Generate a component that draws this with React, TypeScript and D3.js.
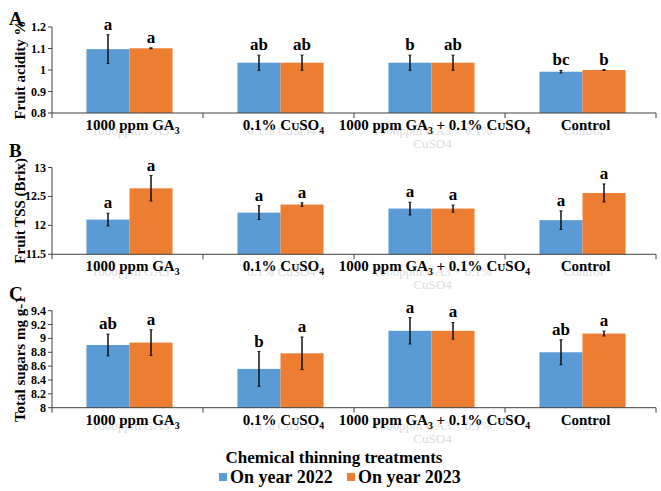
import * as d3 from 'd3';

// treatments on the x axis (same for the three panels)
const treatments = ['1000 ppm GA3', '0.1% CuSO4', '1000 ppm GA3 + 0.1% CuSO4', 'Control'];
// faint original axis labels left behind in the figure
const ghostLabels = [['1000ppm GA3'], ['0.1% CuSO4'], ['1000ppm GA3 + 0.1%', 'CuSO4'], ['Control']];
const years = ['On year 2022', 'On year 2023'];

// A - fruit acidity
const acidity2022 = [1.097, 1.034, 1.034, 0.992];
const acidity2023 = [1.101, 1.034, 1.034, 1.0];
const acidityErr2022 = [0.067, 0.035, 0.035, 0.006];
const acidityErr2023 = [0.002, 0.035, 0.035, 0.002];
const acidityLetters2022 = ['a', 'ab', 'b', 'bc'];
const acidityLetters2023 = ['a', 'ab', 'ab', 'b'];
const acidityTicks = [0.8, 0.9, 1, 1.1, 1.2];

// B - TSS
const tss2022 = [12.1, 12.22, 12.29, 12.09];
const tss2023 = [12.64, 12.36, 12.29, 12.56];
const tssErr2022 = [0.11, 0.12, 0.11, 0.16];
const tssErr2023 = [0.22, 0.03, 0.06, 0.155];
const tssLetters2022 = ['a', 'a', 'a', 'a'];
const tssLetters2023 = ['a', 'a', 'a', 'a'];
const tssTicks = [11.5, 12, 12.5, 13];

// C - total sugars
const sugar2022 = [8.905, 8.56, 9.11, 8.8];
const sugar2023 = [8.94, 8.785, 9.11, 9.07];
const sugarErr2022 = [0.157, 0.25, 0.19, 0.18];
const sugarErr2023 = [0.185, 0.235, 0.12, 0.035];
const sugarLetters2022 = ['ab', 'b', 'a', 'ab'];
const sugarLetters2023 = ['a', 'a', 'a', 'a'];
const sugarTicks = [8, 8.2, 8.4, 8.6, 8.8, 9, 9.2, 9.4];

const colors = ['#5B9BD5', '#ED7D31'];
const font = "'Liberation Serif', 'Times New Roman', serif";

const panels = [
  { letter: 'A', title: 'Fruit acidity %', ticks: acidityTicks, top: 27, bottom: 113,
    values: [acidity2022, acidity2023], errs: [acidityErr2022, acidityErr2023],
    letters: [acidityLetters2022, acidityLetters2023] },
  { letter: 'B', title: 'Fruit TSS (Brix)', ticks: tssTicks, top: 167.5, bottom: 254.3,
    values: [tss2022, tss2023], errs: [tssErr2022, tssErr2023],
    letters: [tssLetters2022, tssLetters2023] },
  { letter: 'C', title: 'Total sugars mg g-1', ticks: sugarTicks, top: 310.7, bottom: 407.7,
    values: [sugar2022, sugar2023], errs: [sugarErr2022, sugarErr2023],
    letters: [sugarLetters2022, sugarLetters2023] },
];

const left = 52;
const right = 656;

// turns GA3 / CuSO4 into subscript and small-cap pieces
function chemLabel(str: string) {
  const segs: { t: string; size?: string; sub?: boolean }[] = [];
  str.split(/(GA3|CuSO4)/).filter(s => s.length).forEach(p => {
    if (p === 'GA3') segs.push({ t: 'GA' }, { t: '3', size: '0.65em', sub: true });
    else if (p === 'CuSO4') segs.push({ t: 'C' }, { t: 'U', size: '0.75em' }, { t: 'SO' }, { t: '4', size: '0.65em', sub: true });
    else segs.push({ t: p });
  });
  let shifted = false;
  return segs.map((s, i) => {
    let dy = 0;
    if (s.sub && !shifted) { dy = 4; shifted = true; }
    else if (!s.sub && shifted) { dy = -4; shifted = false; }
    return <tspan key={i} fontSize={s.size} dy={dy || undefined}>{s.t}</tspan>;
  });
}

const x = d3.scaleBand<string>().domain(treatments).range([left, right]).paddingInner(0);
const groupW = x.bandwidth() * 0.57;
const xi = d3.scaleBand<string>().domain(years)
  .range([(x.bandwidth() - groupW) / 2 + 2, (x.bandwidth() + groupW) / 2 + 2]);
const tickXs = [...treatments.map(t => x(t) as number), right];

function Panel({ p }: { p: typeof panels[number] }) {
  const y = d3.scaleLinear()
    .domain([p.ticks[0], p.ticks[p.ticks.length - 1]])
    .range([p.bottom, p.top]);
  const midY = (p.top + p.bottom) / 2;
  return (
    <g>
      <text x={9} y={p.top - 2 - (p.letter === 'A' ? 0 : 9)} fontSize={19} fontWeight="bold">{p.letter}</text>
      <text transform={`translate(25,${midY}) rotate(-90)`} textAnchor="middle" fontSize={15} fontWeight="bold">{p.title}</text>
      {/* y axis */}
      <line x1={left} x2={left} y1={p.top} y2={p.bottom} stroke="#404040" strokeWidth={1} />
      {p.ticks.map(t => (
        <g key={t}>
          <line x1={left - 4} x2={left} y1={y(t)} y2={y(t)} stroke="#404040" />
          <text x={left - 6} y={y(t) + 4} textAnchor="end" fontSize={12} fontWeight="bold">{String(t)}</text>
        </g>
      ))}
      {/* bars */}
      {treatments.map((t, i) => years.map((yr, j) => {
        const v = p.values[j][i];
        const e = p.errs[j][i];
        const bx = (x(t) as number) + (xi(yr) as number);
        const cx = bx + xi.bandwidth() / 2;
        return (
          <g key={t + yr}>
            <rect x={bx} y={y(v)} width={xi.bandwidth()} height={p.bottom - y(v)} fill={colors[j]} />
            <line x1={cx} x2={cx} y1={y(v + e)} y2={y(v - e)} stroke="#111" strokeWidth={1.5} />
            <line x1={cx - 1.5} x2={cx + 1.5} y1={y(v + e)} y2={y(v + e)} stroke="#111" strokeWidth={1} />
            <line x1={cx - 1.5} x2={cx + 1.5} y1={y(v - e)} y2={y(v - e)} stroke="#111" strokeWidth={1} />
            <text x={cx} y={y(v + e) - 5} textAnchor="middle" fontSize={17} fontWeight="bold">{p.letters[j][i]}</text>
          </g>
        );
      }))}
      {/* x axis */}
      <line x1={left} x2={right} y1={p.bottom} y2={p.bottom} stroke="#404040" />
      {tickXs.map(tx => (
        <line key={tx} x1={tx} x2={tx} y1={p.bottom} y2={p.bottom + 5} stroke="#404040" />
      ))}
      {treatments.map((t, i) => (
        <g key={t}>
          {ghostLabels[i].map((g, k) => (
            <text key={k} x={(x(t) as number) + x.bandwidth() / 2 + 3} y={p.bottom + 22 + k * 13}
              textAnchor="middle" fontSize={13} fill="#dcdcdc">{g}</text>
          ))}
          <text x={(x(t) as number) + x.bandwidth() / 2 + 5} y={p.bottom + 17} textAnchor="middle"
            fontSize={15} fontWeight="bold">{chemLabel(t)}</text>
        </g>
      ))}
    </g>
  );
}

export default function App() {
  return (
    <svg width={661} height={491} style={{ position: 'absolute', left: 0, top: 0, background: '#fff', fontFamily: font }}>
      {panels.map(p => <Panel key={p.letter} p={p} />)}
      <text x={334} y={463} textAnchor="middle" fontSize={17} fontWeight="bold">Chemical thinning treatments</text>
      {years.map((yr, j) => (
        <g key={yr} transform={`translate(${219 + j * 128},0)`}>
          <rect x={0} y={473} width={8} height={8} fill={colors[j]} />
          <text x={11} y={483} fontSize={18} fontWeight="bold">{yr}</text>
        </g>
      ))}
    </svg>
  );
}
